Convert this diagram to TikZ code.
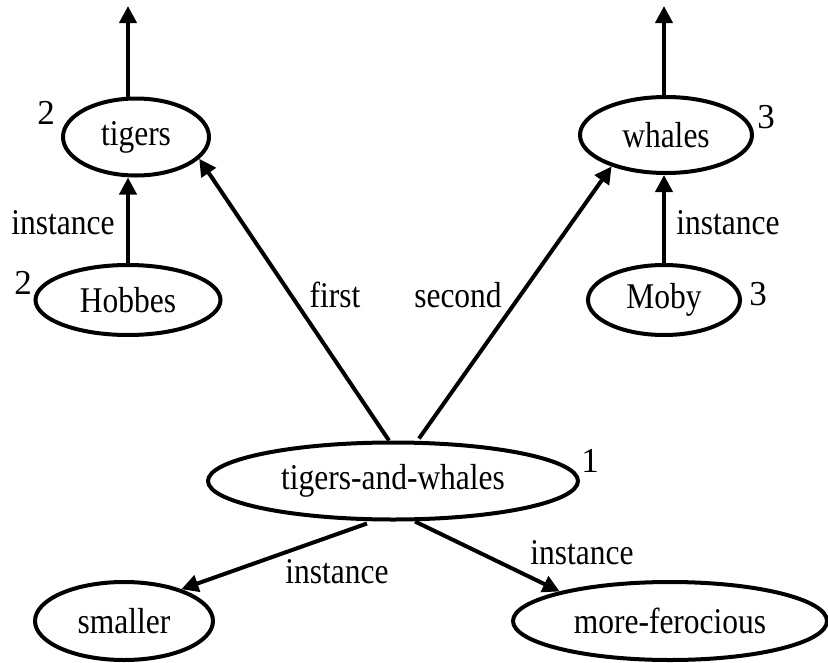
\documentclass[tikz,border=0pt]{standalone}
\usepackage{fontspec}
\setmainfont{Liberation Serif}
\usetikzlibrary{shapes.geometric,arrows.meta,calc}
% slightly tall lettering
\newcommand{\tallt}[1]{\scalebox{1}[1.15]{#1}}
\begin{document}
\begin{tikzpicture}[x=1pt,y=-1pt,
  concept/.style={ellipse,draw,line width=4pt,inner sep=0pt,
                  font=\fontsize{31.5}{32}\selectfont},
  lbl/.style={inner sep=0pt,font=\fontsize{31.5}{32}\selectfont},
  num/.style={inner sep=0pt,font=\fontsize{35}{35}\selectfont},
  link/.style={line width=4pt,-{Triangle[length=17pt,width=17pt]}}]
\useasboundingbox (0,0) rectangle (828,662);

% concepts
\node[concept,minimum width=146pt,minimum height=77pt] (tigers) at (136,137) {\tallt{tigers}};
\node[concept,minimum width=185pt,minimum height=70pt] (hobbes) at (128,300) {\tallt{Hobbes}};
\node[concept,minimum width=172pt,minimum height=76pt] (whales) at (666,135) {\tallt{whales}};
\node[concept,minimum width=152pt,minimum height=70pt] (moby) at (664,300) {\tallt{Moby}};
\node[concept,minimum width=370pt,minimum height=77pt] (tw) at (393,481) {\tallt{tigers-and-whales}};
\node[concept,minimum width=178pt,minimum height=78pt] (smaller) at (124,621) {\tallt{smaller}};
\node[concept,minimum width=314pt,minimum height=78pt] (fero) at (670,621) {\tallt{more-ferocious}};

% numbers beside the concepts
\node[num] (n2a) at (46,113) {2};
\node[num] (n2b) at (23,283) {2};
\node[num] (n3a) at (766,117) {3};
\node[num] (n3b) at (758,294) {3};
\node[num] (n1) at (590,461) {1};

% free ends of the upward links
\coordinate (upT) at (128,6);
\coordinate (upW) at (664,6);

% links
\draw[link] (upT |- tigers.north) -- (upT);
\draw[link] (upW |- whales.north) -- (upW);
\draw[link] (hobbes.north) -- (hobbes.north |- tigers.south);
\draw[link] (moby.north) -- (moby.north |- whales.south);
\draw[link] ($(tw.north)+(-4,0)$) -- (tigers.-19);
\draw[link] ($(tw.north)+(26,-2)$) -- (whales.210);
\draw[link] ($(tw.south)+(-26,2)$) -- (smaller.29);
\draw[link] ($(tw.south)+(22,0)$) -- (fero.165);

% link labels
\node[lbl] (li1) at (63,223) {\tallt{instance}};
\node[lbl] (li2) at (728,223) {\tallt{instance}};
\node[lbl] (lf) at (335,295) {\tallt{first}};
\node[lbl] (ls) at (458,295) {\tallt{second}};
\node[lbl] (li3) at (337,572) {\tallt{instance}};
\node[lbl] (li4) at (582,553) {\tallt{instance}};
\end{tikzpicture}
\end{document}
